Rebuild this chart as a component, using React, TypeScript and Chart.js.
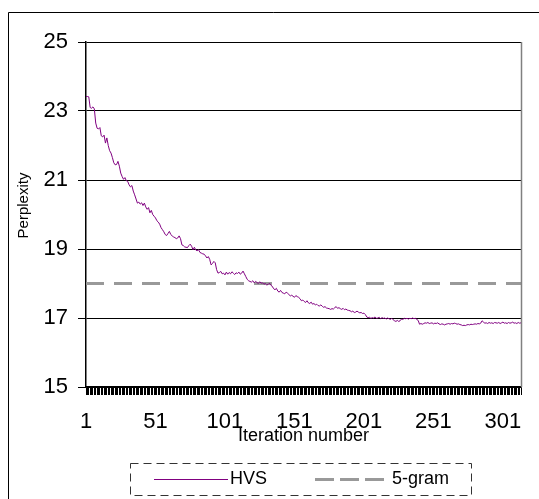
import React, { useEffect, useRef } from "react";
import { Chart, registerables } from "chart.js";

Chart.register(...registerables);

// HVS perplexity per iteration
const hvsValues: number[] = [
  23.42, 23.42, 23.41, 23.1, 23.08, 23.12, 23.06, 22.65, 22.5, 22.48,
  22.52, 22.28, 22.25, 22.3, 22.07, 22.22, 22.0, 21.85, 21.78, 21.65,
  21.5, 21.44, 21.45, 21.54, 21.4, 21.2, 21.1, 21.02, 21.07, 20.98,
  20.96, 20.86, 20.8, 20.84, 20.68, 20.57, 20.45, 20.33, 20.36, 20.3,
  20.34, 20.26, 20.33, 20.22, 20.15, 20.2, 20.05, 20.12, 20.0, 19.95,
  19.9, 19.82, 19.78, 19.72, 19.62, 19.56, 19.5, 19.42, 19.39, 19.45,
  19.51, 19.42, 19.38, 19.35, 19.33, 19.3, 19.32, 19.38, 19.3, 19.12,
  19.1, 19.06, 19.05, 19.04, 19.1, 19.14, 19.08, 18.98, 19.05, 18.97,
  18.95, 18.98, 18.9, 18.88, 18.86, 18.85, 18.8, 18.74, 18.78, 18.7,
  18.54, 18.58, 18.64, 18.6, 18.4, 18.3, 18.32, 18.35, 18.28, 18.3,
  18.25, 18.33, 18.27, 18.32, 18.28, 18.34, 18.3, 18.26, 18.31, 18.29,
  18.33, 18.27, 18.3, 18.36, 18.28, 18.2, 18.12, 18.08, 18.06, 18.04,
  18.08, 18.02, 18.06, 18.03, 18.0, 18.05, 18.01, 18.02, 17.98, 18.0,
  17.96, 17.97, 18.01, 17.95, 17.92, 17.85, 17.82, 17.86, 17.78, 17.75,
  17.8, 17.74, 17.72, 17.7, 17.75, 17.72, 17.68, 17.64, 17.66, 17.63,
  17.6, 17.65, 17.62, 17.6, 17.56, 17.5, 17.52, 17.48, 17.45, 17.5,
  17.44, 17.42, 17.46, 17.4, 17.42, 17.38, 17.4, 17.36, 17.35, 17.38,
  17.34, 17.31, 17.33, 17.29, 17.28, 17.27, 17.25, 17.27, 17.26, 17.3,
  17.33, 17.28, 17.3, 17.27, 17.25, 17.28, 17.24, 17.26, 17.23, 17.22,
  17.21, 17.18, 17.2, 17.16, 17.17, 17.2, 17.17, 17.15, 17.16, 17.13,
  17.14, 17.1, 17.03, 17.01, 17.02, 16.99, 17.01, 17.0, 17.03, 16.99,
  17.0, 17.02, 16.98, 17.01, 16.99, 17.0, 16.97, 17.0, 16.98, 16.96,
  16.99, 16.95, 16.92, 16.9, 16.93, 16.9, 16.92, 16.97, 16.96, 16.99,
  16.98, 16.99, 16.97, 16.99, 16.98, 17.0, 16.98, 16.99, 16.96, 16.93,
  16.82, 16.84, 16.82, 16.84, 16.86, 16.85, 16.87, 16.84, 16.85, 16.86,
  16.83, 16.85, 16.84, 16.86, 16.83, 16.81, 16.83, 16.82, 16.8, 16.82,
  16.83, 16.84, 16.82, 16.84, 16.83, 16.85, 16.84, 16.82, 16.83, 16.81,
  16.8, 16.78, 16.79, 16.78, 16.8, 16.81, 16.8, 16.82, 16.81, 16.82,
  16.83, 16.82, 16.84, 16.83, 16.85, 16.92, 16.88, 16.85, 16.86, 16.84,
  16.87, 16.85, 16.86, 16.84, 16.87, 16.86, 16.85, 16.87, 16.84, 16.86,
  16.88, 16.85, 16.86, 16.84, 16.87, 16.85, 16.86, 16.88, 16.85, 16.86,
  16.84, 16.87, 16.85, 16.86,
];

// Iteration numbers (categories)
const iterations: string[] = hvsValues.map((_, i) => String(i + 1));

// 5-gram baseline perplexity
const ngramValue = 18;

// Tick labels shown on the x axis
const xTickLabels: string[] = ["1", "51", "101", "151", "201", "251", "301"];
const yTicks: number[] = [15, 17, 19, 21, 23, 25];

const seriesNames = ["HVS", "5-gram"];
const xTitle = "Iteration number";
const yTitle = "Perplexity";

const FONT = 'Arial, "Liberation Sans", sans-serif';
const PURPLE = "#800080";
const GRAY = "#999999";

const decorPlugin = {
  id: "decor",
  beforeDraw(chart: any) {
    const ctx = chart.ctx;
    ctx.save();
    ctx.fillStyle = "#ffffff";
    ctx.fillRect(0, 0, chart.width, chart.height);
    ctx.strokeStyle = "#000";
    ctx.lineWidth = 1;
    ctx.beginPath();
    ctx.moveTo(8.5, chart.height);
    ctx.lineTo(8.5, 12.5);
    ctx.lineTo(chart.width, 12.5);
    ctx.stroke();
    ctx.restore();
  },
  afterDraw(chart: any) {
    const ctx = chart.ctx;
    const area = chart.chartArea;
    ctx.save();
    // plot area right border
    ctx.strokeStyle = "#808080";
    ctx.lineWidth = 1.5;
    ctx.beginPath();
    ctx.moveTo(area.right + 0.5, area.top);
    ctx.lineTo(area.right + 0.5, area.bottom);
    ctx.stroke();

    // y axis title
    ctx.fillStyle = "#000";
    ctx.font = `15px ${FONT}`;
    ctx.textAlign = "center";
    ctx.textBaseline = "middle";
    ctx.translate(24, 205.5);
    ctx.rotate(-Math.PI / 2);
    ctx.fillText(yTitle, 0, 0);
    ctx.restore();

    // legend
    ctx.save();
    ctx.strokeStyle = "#333";
    ctx.lineWidth = 1;
    ctx.setLineDash([8, 5]);
    ctx.strokeRect(130.5, 463.5, 341, 32);
    ctx.setLineDash([]);
    ctx.strokeStyle = PURPLE;
    ctx.lineWidth = 1;
    ctx.beginPath();
    ctx.moveTo(154, 479.5);
    ctx.lineTo(228, 479.5);
    ctx.stroke();
    ctx.strokeStyle = GRAY;
    ctx.lineWidth = 3;
    ctx.setLineDash([19, 6]);
    ctx.beginPath();
    ctx.moveTo(315, 479.5);
    ctx.lineTo(389, 479.5);
    ctx.stroke();
    ctx.setLineDash([]);
    ctx.fillStyle = "#000";
    ctx.font = `18px ${FONT}`;
    ctx.textAlign = "left";
    ctx.textBaseline = "middle";
    ctx.fillText(seriesNames[0], 230, 479);
    ctx.fillText(seriesNames[1], 392, 479);
    ctx.restore();
  },
};

export default function App() {
  const ref = useRef<HTMLCanvasElement | null>(null);

  useEffect(() => {
    if (!ref.current) return;
    Chart.defaults.font.family = FONT;
    Chart.defaults.color = "#000";
    const chart = new Chart(ref.current, {
      type: "line",
      data: {
        labels: iterations,
        datasets: [
          {
            label: seriesNames[0],
            data: hvsValues,
            borderColor: PURPLE,
            borderWidth: 1,
            pointRadius: 0,
            tension: 0,
            fill: false,
          },
          {
            label: seriesNames[1],
            data: [
              { x: iterations[0], y: ngramValue },
              { x: iterations[iterations.length - 1], y: ngramValue },
            ] as any,
            borderColor: GRAY,
            borderWidth: 3,
            borderDash: [18, 10],
            pointRadius: 0,
            fill: false,
          },
        ],
      },
      options: {
        responsive: false,
        animation: false,
        layout: { padding: { left: 0, top: 42, right: 18, bottom: 52 } },
        plugins: {
          legend: { display: false },
          tooltip: { enabled: false },
        },
        scales: {
          x: {
            type: "category",
            offset: false,
            grid: {
              display: true,
              drawOnChartArea: false,
              drawTicks: true,
              tickLength: 8,
              color: "#000",
              lineWidth: 1,
            },
            border: { display: true, color: "#000", width: 1.5 },
            ticks: {
              autoSkip: false,
              maxRotation: 0,
              minRotation: 0,
              padding: 14,
              font: { size: 22 },
              color: "#000",
              callback: function (this: any, val: any) {
                const l = this.getLabelForValue(val);
                return xTickLabels.includes(l) ? l : "";
              },
            },
            title: {
              display: true,
              text: xTitle,
              font: { size: 18 },
              color: "#000",
              padding: { top: 0, bottom: 0 },
            },
            afterFit: (scale: any) => {
              scale.height = 60;
            },
          },
          y: {
            min: 15,
            max: 25,
            afterBuildTicks: (scale: any) => {
              scale.ticks = yTicks.map((v) => ({ value: v }));
            },
            grid: {
              color: "#000",
              lineWidth: 1,
              tickLength: 8,
            },
            border: { display: true, color: "#000", width: 1.5 },
            ticks: {
              padding: 10,
              font: { size: 22 },
              color: "#000",
            },
            afterFit: (scale: any) => {
              scale.width = 86;
            },
          },
        },
      },
      plugins: [decorPlugin],
    });
    return () => chart.destroy();
  }, []);

  return (
    <div style={{ position: "absolute", left: 0, top: 0, width: 539, height: 499 }}>
      <canvas ref={ref} width={539} height={499} style={{ width: 539, height: 499, display: "block" }} />
    </div>
  );
}
